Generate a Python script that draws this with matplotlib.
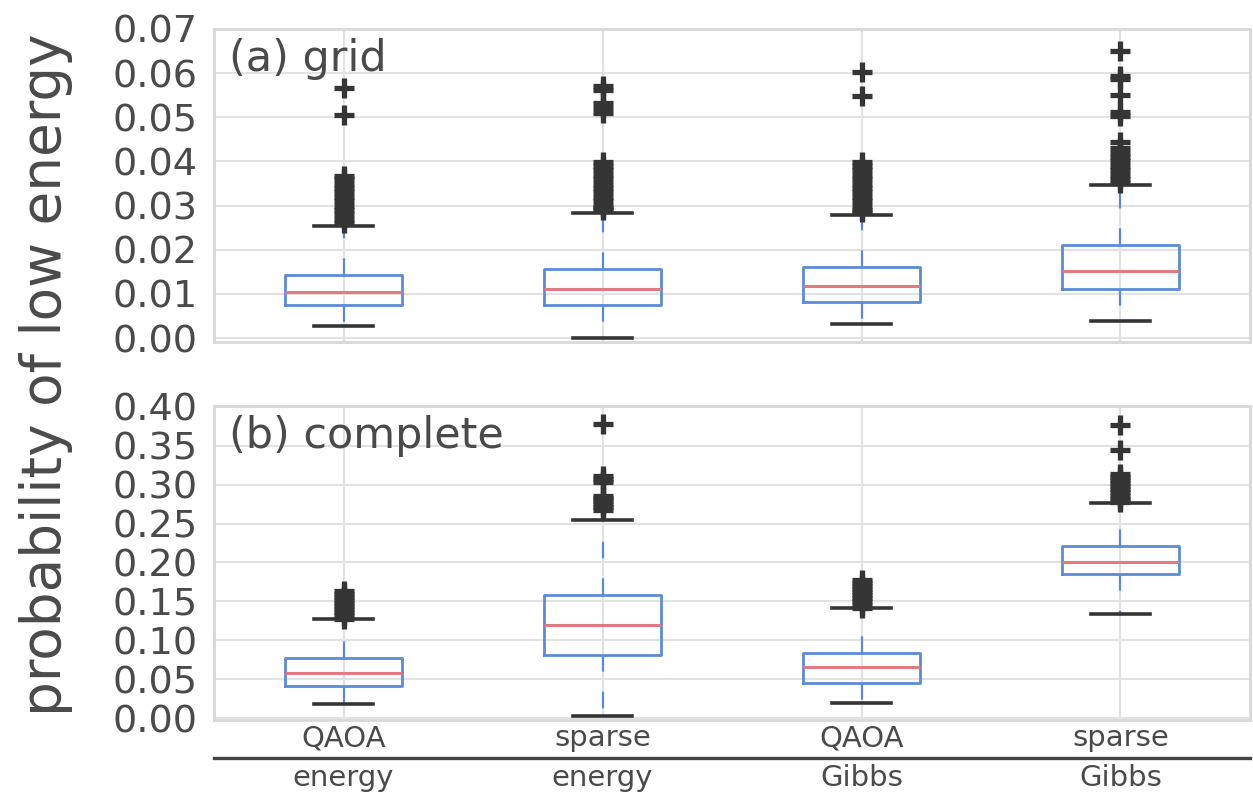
import matplotlib
matplotlib.use("Agg")
import matplotlib.pyplot as plt

# category labels (two rows under the lower panel)
method_labels = ["QAOA", "sparse", "QAOA", "sparse"]
target_labels = ["energy", "energy", "Gibbs", "Gibbs"]

# (a) grid graphs: box statistics
grid_q1 = [0.0074, 0.0074, 0.0081, 0.0111]
grid_med = [0.0105, 0.0111, 0.0119, 0.0153]
grid_q3 = [0.0144, 0.0157, 0.0161, 0.0211]
grid_lo = [0.0028, 0.0000, 0.0032, 0.0039]
grid_hi = [0.0253, 0.0284, 0.0279, 0.0347]
grid_fliers = [
    [0.026, 0.027, 0.028, 0.029, 0.030, 0.031, 0.032, 0.033, 0.034, 0.035,
     0.036, 0.0368, 0.0505, 0.0566],
    [0.029, 0.0295, 0.030, 0.031, 0.032, 0.033, 0.034, 0.035, 0.036, 0.037,
     0.038, 0.039, 0.0399, 0.0510, 0.0522, 0.0532, 0.0562, 0.0570],
    [0.0285, 0.029, 0.030, 0.031, 0.032, 0.033, 0.034, 0.035, 0.036, 0.037,
     0.038, 0.039, 0.0399, 0.0548, 0.0603],
    [0.0352, 0.036, 0.037, 0.038, 0.039, 0.040, 0.041, 0.042, 0.043, 0.0444,
     0.0503, 0.0512, 0.0550, 0.0586, 0.0594, 0.0651],
]

# (b) complete graphs: box statistics
comp_q1 = [0.0414, 0.0817, 0.0457, 0.1846]
comp_med = [0.0577, 0.1197, 0.0658, 0.2009]
comp_q3 = [0.0773, 0.1580, 0.0833, 0.2218]
comp_lo = [0.018, 0.003, 0.020, 0.134]
comp_hi = [0.127, 0.255, 0.141, 0.2765]
comp_fliers = [
    [0.128, 0.132, 0.136, 0.140, 0.144, 0.148, 0.152, 0.156, 0.160, 0.163],
    [0.267, 0.271, 0.275, 0.279, 0.283, 0.286, 0.303, 0.307, 0.311, 0.378],
    [0.142, 0.146, 0.150, 0.154, 0.158, 0.162, 0.166, 0.170, 0.174, 0.177],
    [0.278, 0.282, 0.286, 0.290, 0.294, 0.298, 0.302, 0.306, 0.310, 0.314,
     0.345, 0.376],
]

BLUE = "#5b8bd6"
RED = "#e27a83"
DARK = "#353535"
TEXT = "#4a4a4a"


def box_stats(q1, med, q3, lo, hi, fliers):
    stats = []
    for i in range(len(q1)):
        stats.append(dict(q1=q1[i], med=med[i], q3=q3[i],
                          whislo=lo[i], whishi=hi[i], fliers=fliers[i]))
    return stats


def draw_panel(ax, stats, title):
    ax.bxp(stats, positions=[1, 2, 3, 4], widths=0.45, manage_ticks=False,
           boxprops=dict(color=BLUE, lw=2),
           medianprops=dict(color=RED, lw=2.2),
           whiskerprops=dict(color=BLUE, lw=1.6, linestyle=(0, (7.5, 9))),
           capprops=dict(color=DARK, lw=2.6),
           flierprops=dict(marker="+", markersize=14, markeredgewidth=3.8,
                           markeredgecolor=DARK, linestyle="none"))
    ax.set_xlim(0.5, 4.5)
    ax.set_xticks([1, 2, 3, 4])
    ax.grid(True, color="#e2e2e2", lw=1.5)
    ax.set_axisbelow(True)
    for s in ax.spines.values():
        s.set_color("#d8d8d8")
        s.set_linewidth(2)
    ax.tick_params(axis="both", length=0, colors=TEXT)
    ax.tick_params(axis="y", labelsize=27.5, pad=12)
    ax.text(0.014, 0.97, title, transform=ax.transAxes, ha="left", va="top",
            fontsize=31, color=TEXT)


fig = plt.figure(figsize=(12.53, 7.92), dpi=100)
ax1 = fig.add_axes([0.1708, 0.5686, 0.8268, 0.3948])
ax2 = fig.add_axes([0.1708, 0.0909, 0.8268, 0.3965])

draw_panel(ax1, box_stats(grid_q1, grid_med, grid_q3, grid_lo, grid_hi, grid_fliers),
           "(a) grid")
ax1.set_ylim(-0.0008, 0.0700)
ax1.set_yticks([0.00, 0.01, 0.02, 0.03, 0.04, 0.05, 0.06, 0.07])
ax1.set_yticklabels(["%.2f" % v for v in ax1.get_yticks()])
ax1.set_xticklabels([])

draw_panel(ax2, box_stats(comp_q1, comp_med, comp_q3, comp_lo, comp_hi, comp_fliers),
           "(b) complete")
ax2.set_ylim(-0.0023, 0.401)
ax2.set_yticks([0.00, 0.05, 0.10, 0.15, 0.20, 0.25, 0.30, 0.35, 0.40])
ax2.set_yticklabels(["%.2f" % v for v in ax2.get_yticks()])
ax2.set_xticklabels(method_labels, fontsize=21)
ax2.tick_params(axis="x", pad=3)

# second row of category labels below a dark separator line
sec = ax2.secondary_xaxis(-0.121)
sec.set_xticks([1, 2, 3, 4])
sec.set_xticklabels(target_labels, fontsize=21, color=TEXT)
sec.tick_params(axis="x", length=0, pad=4)
sec.spines["bottom"].set_color("#444444")
sec.spines["bottom"].set_linewidth(2.4)

fig.text(0.0367, 0.527, "probability of low energy", rotation=90,
         ha="center", va="center", fontsize=39.5, color=TEXT)

fig.savefig("out.png", dpi=100, facecolor="white")
